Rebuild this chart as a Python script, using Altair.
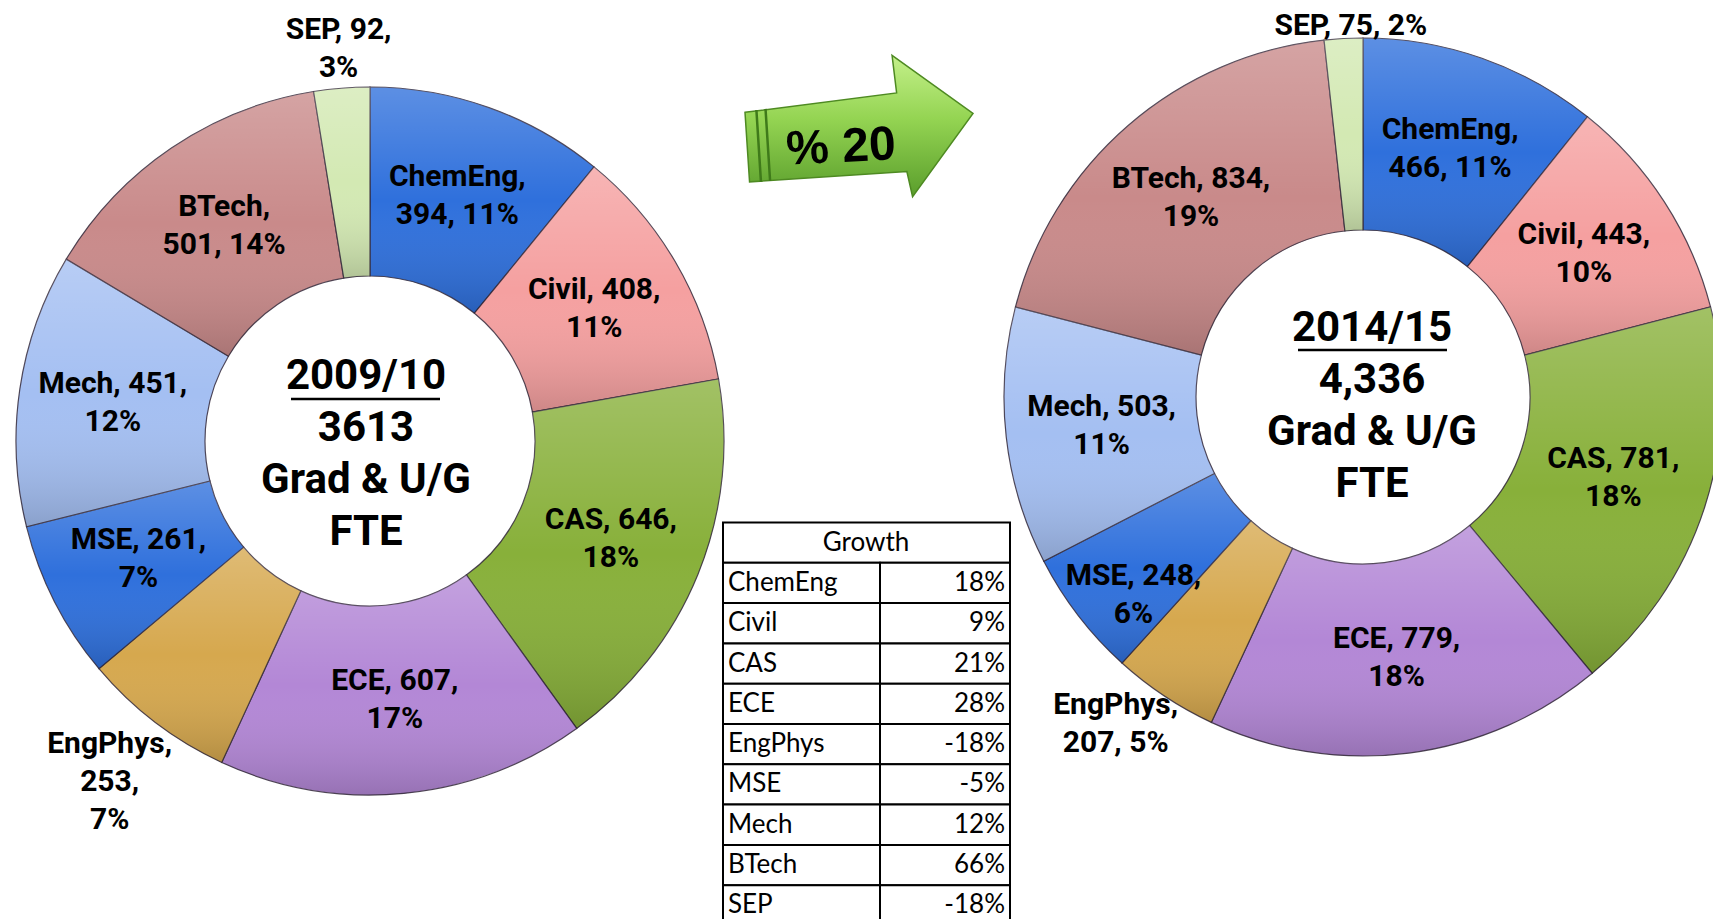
import math
import altair as alt
import pandas as pd

# ---------------- data ----------------
depts = ["ChemEng", "Civil", "CAS", "ECE", "EngPhys", "MSE", "Mech", "BTech", "SEP"]
fte_2009 = [394, 408, 646, 607, 253, 261, 451, 501, 92]
pct_2009 = [11, 11, 18, 17, 7, 7, 12, 14, 3]
fte_2014 = [466, 443, 781, 779, 207, 248, 503, 834, 75]
pct_2014 = [11, 10, 18, 18, 5, 6, 11, 19, 2]
growth = ["18%", "9%", "21%", "28%", "-18%", "-5%", "12%", "66%", "-18%"]
years = ["2009/10", "2014/15"]
totals_text = ["3613", "4,336"]
center_sub = ["Grad & U/G", "FTE"]
arrow_text = "% 20"
table_title = "Growth"

# line-break patterns of the slice labels (word groups)
breaks_2009 = ["1|23", "12|3", "12|3", "12|3", "1|2|3", "12|3", "12|3", "1|23", "12|3"]
breaks_2014 = ["1|23", "12|3", "12|3", "12|3", "1|23", "12|3", "12|3", "12|3", "123"]

colors = ["#2f70dc", "#f5a0a0", "#88b03a", "#b387d6", "#d6a84e",
          "#2f70dc", "#a4bff2", "#c98a8a", "#d3e9b3"]

LBL_FONT = "Roboto, Liberation Sans, sans-serif"
TBL_FONT = "Lato, Open Sans, sans-serif"
LBL_SIZE = 30
LBL_LH = 38


def make_labels(vals, pcts, breaks):
    out = []
    for n, v, p, b in zip(depts, vals, pcts, breaks):
        words = [f"{n},", f"{v},", f"{p}%"]
        lines = [" ".join(words[int(c) - 1] for c in grp) for grp in b.split("|")]
        out.append("\n".join(lines))
    return out


theta_scale = alt.Scale(domain=[0, 1], range=[0, 2 * math.pi])
shade = {
    "gradient": "linear", "x1": 0, "y1": 0, "x2": 0, "y2": 1,
    "stops": [
        {"offset": 0, "color": "rgba(255,255,255,0.22)"},
        {"offset": 0.5, "color": "rgba(255,255,255,0.0)"},
        {"offset": 1, "color": "rgba(0,0,0,0.16)"},
    ],
}


def donut(vals, pcts, breaks, cx, cy, r_in, r_out, r_lab, special):
    df = pd.DataFrame({
        "dept": depts,
        "value": vals,
        "idx": list(range(len(depts))),
        "label": make_labels(vals, pcts, breaks),
    })
    nlines = {d: b.count("|") + 1 for d, b in zip(depts, breaks)}
    base = (
        alt.Chart(df)
        .transform_joinaggregate(total="sum(value)")
        .transform_calculate(frac="datum.value / datum.total")
        .transform_window(end="sum(frac)", sort=[alt.SortField("idx", order="ascending")],
                          frame=[None, 0])
        .transform_calculate(start="datum.end - datum.frac", mid="datum.end - datum.frac / 2")
    )
    enc = dict(
        theta=alt.Theta("start:Q", scale=theta_scale, stack=None),
        theta2="end:Q",
        x=alt.value(cx),
        y=alt.value(cy),
    )
    arcs = base.mark_arc(innerRadius=r_in, outerRadius=r_out, stroke="#33283a",
                         strokeWidth=1.2, strokeOpacity=0.85).encode(
        color=alt.Color("dept:N", scale=alt.Scale(domain=depts, range=colors), legend=None),
        **enc,
    )
    gloss = base.mark_arc(innerRadius=r_in, outerRadius=r_out, fill=shade,
                          strokeWidth=0).encode(**enc)
    layers = [arcs, gloss]
    txt_enc = dict(
        theta=alt.Theta("mid:Q", scale=theta_scale, stack=None),
        text=alt.Text("label:N"),
        x=alt.value(cx),
        y=alt.value(cy),
    )
    inside = [d for d in depts if d not in special]
    layers.append(
        base.transform_filter(alt.FieldOneOfPredicate(field="dept", oneOf=inside))
        .mark_text(font=LBL_FONT, fontSize=LBL_SIZE, fontWeight="bold", lineBreak="\n",
                   lineHeight=LBL_LH, radius=r_lab, color="black", dy=-LBL_LH / 2)
        .encode(**txt_enc)
    )
    for d, (r, ox, oy) in special.items():
        layers.append(
            base.transform_filter(alt.datum.dept == d)
            .mark_text(font=LBL_FONT, fontSize=LBL_SIZE, fontWeight="bold", lineBreak="\n",
                       lineHeight=LBL_LH, radius=r, color="black", dx=ox,
                       dy=-(nlines[d] - 1) * LBL_LH / 2 + oy)
            .encode(**txt_enc)
        )
    return layers


def center_text(i, cx, cy, ux1, ux2, uy):
    df = pd.DataFrame({"t": ["\n".join([years[i], totals_text[i]] + center_sub)]})
    t = alt.Chart(df).mark_text(font=LBL_FONT, fontSize=42, fontWeight="bold",
                                lineBreak="\n", lineHeight=52, color="black").encode(
        text="t:N", x=alt.value(cx), y=alt.value(cy))
    u = alt.Chart(pd.DataFrame({"a": [0]})).mark_rule(color="black", strokeWidth=2.5).encode(
        x=alt.value(ux1), x2=alt.value(ux2), y=alt.value(uy))
    return [t, u]


left = donut(fte_2009, pct_2009, breaks_2009, 362, 433, 165, 354, 260,
             {"EngPhys": (429, 0, 0), "SEP": (393, 0, 0)})
right = donut(fte_2014, pct_2014, breaks_2014, 1355, 389, 167, 359, 263,
              {"MSE": (302, 10, 14), "EngPhys": (411, -20, -15), "SEP": (372, 8, 0)})

centers = center_text(0, 358, 368, 283, 432, 391) + center_text(1, 1364, 320, 1290, 1439, 342)

# ---------------- arrow ----------------
ARROW = ("M -1 -0.12 L 0.33 -0.29 L 0.29 -0.62 L 1 -0.11 L 0.47 0.62 "
         "L 0.42 0.40 L -0.96 0.49 Z")
STRIPES = "M -0.9 -0.14 L -0.86 0.49 M -0.82 -0.15 L -0.78 0.48"
arrow_fill = {
    "gradient": "linear", "x1": 0, "y1": 0, "x2": 0, "y2": 1,
    "stops": [
        {"offset": 0, "color": "#c4f08a"},
        {"offset": 0.45, "color": "#94d452"},
        {"offset": 1, "color": "#5a9e2c"},
    ],
}
one = pd.DataFrame({"t": [arrow_text]})
arrow = alt.Chart(one).mark_point(shape=ARROW, size=51984, filled=True, fill=arrow_fill,
                                  stroke="#4e8a22", strokeWidth=1.5, opacity=1).encode(
    x=alt.value(851), y=alt.value(118))
stripes = alt.Chart(one).mark_point(shape=STRIPES, size=51984, filled=False,
                                    stroke="#3f7a1a", strokeWidth=2.5, opacity=1).encode(
    x=alt.value(851), y=alt.value(118))
arrow_lbl = alt.Chart(one).mark_text(font="Liberation Sans, Arial, sans-serif", fontSize=48,
                                     fontWeight="bold", angle=357, color="black").encode(
    text="t:N", x=alt.value(833), y=alt.value(140))

# ---------------- growth table ----------------
rows = list(range(len(depts) + 1))
tbl = pd.DataFrame({
    "row": rows,
    "name": [table_title] + depts,
    "g": [""] + growth,
})
yenc = alt.Y("row:O", scale=alt.Scale(domain=rows, range=[514.5, 917.5],
                                       paddingInner=0, paddingOuter=0), axis=None)
tbase = alt.Chart(tbl)
hdr_rect = tbase.transform_filter(alt.datum.row == 0).mark_rect(
    fill="white", stroke="black", strokeWidth=2).encode(
    y=yenc, x=alt.value(715), x2=alt.value(1002))
c1_rect = tbase.transform_filter(alt.datum.row > 0).mark_rect(
    fill="white", stroke="black", strokeWidth=2).encode(
    y=yenc, x=alt.value(715), x2=alt.value(872))
c2_rect = tbase.transform_filter(alt.datum.row > 0).mark_rect(
    fill="white", stroke="black", strokeWidth=2).encode(
    y=yenc, x=alt.value(872), x2=alt.value(1002))
hdr_txt = tbase.transform_filter(alt.datum.row == 0).mark_text(
    font=TBL_FONT, fontSize=26, align="center", color="black").encode(
    y=yenc, x=alt.value(858), text="name:N")
c1_txt = tbase.transform_filter(alt.datum.row > 0).mark_text(
    font=TBL_FONT, fontSize=26, align="left", color="black").encode(
    y=yenc, x=alt.value(720), text="name:N")
c2_txt = tbase.transform_filter(alt.datum.row > 0).mark_text(
    font=TBL_FONT, fontSize=26, align="right", color="black").encode(
    y=yenc, x=alt.value(997), text="g:N")

chart = alt.layer(
    *left, *right, *centers,
    hdr_rect, c1_rect, c2_rect, hdr_txt, c1_txt, c2_txt,
    arrow, stripes, arrow_lbl,
).properties(
    width=1705, height=911, padding=0,
    autosize=alt.AutoSizeParams(type="none"),
    background="white",
).configure_view(strokeWidth=0)

chart.save("out.html", embed_options={"renderer": "svg", "actions": False})
